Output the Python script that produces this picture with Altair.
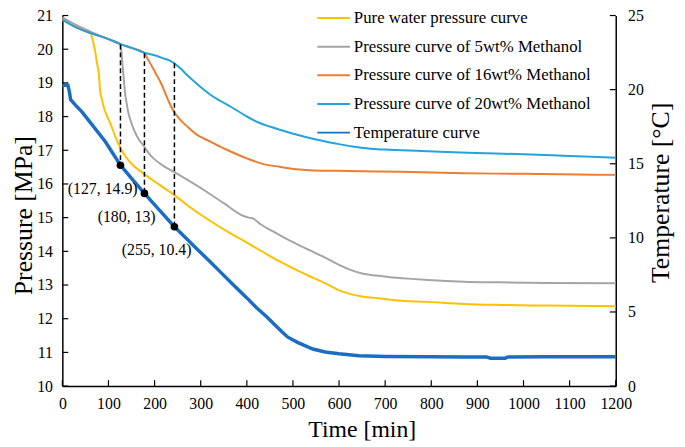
import altair as alt
import pandas as pd

# ---------------- data ----------------
series_names = [
    "Pure water pressure curve",
    "Pressure curve of 5wt% Methanol",
    "Pressure curve of 16wt% Methanol",
    "Pressure curve of 20wt% Methanol",
    "Temperature curve",
]
series_colors = ["#FFC000", "#A5A5A5", "#ED7D31", "#21A3DF", "#1A6DC3"]

water_t = [0, 30, 61, 64, 68, 71, 75, 79, 82, 86, 89, 96, 104, 115, 126, 138, 150, 177, 210, 243, 280, 321, 360,
           400, 435, 471, 507, 543, 575, 600, 625, 650, 690, 721, 793, 871, 950, 1050, 1200]
water_p = [20.9, 20.66, 20.48, 20.36, 20.15, 19.95, 19.6, 19.28, 18.75, 18.5, 18.32, 18.05, 17.8, 17.4, 17.07, 16.8,
           16.6, 16.3, 15.98, 15.67, 15.28, 14.9, 14.57, 14.26, 13.98, 13.7, 13.45, 13.22, 13.02, 12.84, 12.73,
           12.66, 12.6, 12.55, 12.5, 12.44, 12.41, 12.39, 12.37]

gray_t = [0, 30, 61, 100, 126, 128, 130, 133, 136, 140, 143, 150, 157, 166, 177, 188, 200, 220, 243, 275, 307, 350,
          393, 405, 414, 429, 457, 486, 514, 543, 572, 600, 625, 650, 680, 707, 750, 793, 871, 950, 1050, 1200]
gray_p = [20.95, 20.72, 20.52, 20.3, 20.15, 19.95, 19.6, 19.15, 18.7, 18.35, 18.12, 17.8, 17.55, 17.32, 17.12, 16.9,
          16.73, 16.53, 16.35, 16.09, 15.82, 15.43, 15.05, 15.0, 14.97, 14.81, 14.59, 14.37, 14.18, 13.99, 13.8,
          13.6, 13.45, 13.34, 13.28, 13.24, 13.19, 13.15, 13.1, 13.08, 13.06, 13.05]

orange_t = [0, 30, 61, 100, 126, 150, 177, 185, 193, 203, 214, 223, 232, 243, 253, 264, 278, 293, 307, 321, 340,
            364, 400, 436, 471, 507, 536, 593, 686, 780, 871, 1000, 1200]
orange_p = [20.88, 20.65, 20.48, 20.3, 20.15, 20.04, 19.9, 19.72, 19.52, 19.27, 18.99, 18.7, 18.41, 18.12, 17.95,
            17.79, 17.62, 17.45, 17.35, 17.26, 17.12, 16.97, 16.76, 16.59, 16.51, 16.44, 16.41, 16.39, 16.37,
            16.35, 16.32, 16.3, 16.27]

cyan_t = [0, 30, 61, 100, 126, 150, 177, 200, 221, 235, 243, 250, 257, 270, 286, 303, 321, 342, 364, 392, 421, 460,
          507, 550, 593, 630, 664, 700, 780, 878, 1000, 1100, 1200]
cyan_p = [20.88, 20.65, 20.48, 20.3, 20.15, 20.04, 19.9, 19.82, 19.72, 19.65, 19.58, 19.5, 19.42, 19.24, 19.04,
          18.84, 18.65, 18.47, 18.3, 18.07, 17.85, 17.66, 17.47, 17.32, 17.2, 17.11, 17.05, 17.02, 16.98, 16.93,
          16.88, 16.83, 16.78]

temp_t = [0, 12, 15, 18, 30, 43, 60, 93, 126, 150, 178, 210, 243, 270, 293, 320, 343, 370, 400, 420, 443, 460, 475,
          489, 510, 543, 570, 600, 643, 700, 800, 870, 920, 928, 960, 966, 1050, 1200]
temp_v = [20.3, 20.3, 19.9, 19.32, 18.9, 18.48, 17.81, 16.5, 14.9, 14.02, 13.0, 11.89, 10.75, 9.93, 9.22, 8.4, 7.69,
          6.85, 5.95, 5.32, 4.68, 4.15, 3.7, 3.3, 2.95, 2.5, 2.3, 2.18, 2.05, 2.0, 1.98, 1.97, 1.97, 1.88, 1.88,
          1.97, 1.98, 1.98]

mark_t = [126, 178, 243]
mark_T = [14.9, 13.0, 10.75]
mark_top_p = [20.14, 19.88, 19.58]
mark_labels = ["(127, 14.9)", "(180, 13)", "(255, 10.4)"]

x_ticks = [0, 100, 200, 300, 400, 500, 600, 700, 800, 900, 1000, 1100, 1200]
p_ticks = [10, 11, 12, 13, 14, 15, 16, 17, 18, 19, 20, 21]
t_ticks = [0, 5, 10, 15, 20, 25]

# ---------------- chart ----------------
W, H = 560, 375
FONT = "Liberation Serif"

xscale = alt.Scale(domain=[0, 1200], nice=False, zero=False)
pscale = alt.Scale(domain=[10, 21], nice=False, zero=False)
tscale = alt.Scale(domain=[0, 25], nice=False, zero=False)
cscale = alt.Scale(domain=series_names, range=series_colors)

xaxis = alt.Axis(values=x_ticks, format="d", title="Time [min]", titleFontSize=24, titleX=303,
                 labelPadding=10, titlePadding=6, labelOverlap=False, labelFlush=False, labelBound=False)
paxis = alt.Axis(values=p_ticks, format="d", title="Pressure [MPa]", orient="left", titleFontSize=26,
                 titleY=202, labelPadding=10, titlePadding=0, labelOverlap=False, labelFlush=False,
                 labelBound=False)
taxis = alt.Axis(values=t_ticks, format="d", title="Temperature [°C]", orient="right", titleFontSize=26,
                 titleAngle=270, titleBaseline="top", titleY=179, labelPadding=12, titlePadding=4,
                 labelOverlap=False, labelFlush=False, labelBound=False)

legend = alt.Legend(orient="none", legendX=257, legendY=-15, symbolType="stroke", symbolSize=1089,
                    symbolStrokeWidth=2, labelFont=FONT, labelFontSize=17, labelLimit=400, labelOffset=3,
                    rowPadding=3, padding=0, labelColor="black", title=None)


def X():
    return alt.X("t:Q", scale=xscale, axis=xaxis)


def pressure_line(name, ts, ps):
    df = pd.DataFrame({"t": ts, "P": ps, "series": name})
    return alt.Chart(df).mark_line(strokeWidth=2, interpolate="monotone").encode(
        x=X(),
        y=alt.Y("P:Q", scale=pscale, axis=paxis),
        color=alt.Color("series:N", scale=cscale, legend=legend),
    )


pressure = alt.layer(
    pressure_line(series_names[0], water_t, water_p),
    pressure_line(series_names[1], gray_t, gray_p),
    pressure_line(series_names[2], orange_t, orange_p),
    pressure_line(series_names[3], cyan_t, cyan_p),
)

temp_df = pd.DataFrame({"t": temp_t, "T": temp_v, "series": series_names[4]})
temp = alt.Chart(temp_df).mark_line(strokeWidth=3.5).encode(
    x=X(),
    y=alt.Y("T:Q", scale=tscale, axis=taxis),
    color=alt.Color("series:N", scale=cscale, legend=legend),
)

mark_df = pd.DataFrame({"t": mark_t, "T": mark_T, "top": mark_top_p, "label": mark_labels})

dashed = alt.Chart(mark_df).transform_calculate(
    bot="10 + datum.T * 11 / 25"
).mark_rule(color="black", strokeDash=[5, 3], strokeWidth=1.5).encode(
    x=X(),
    y=alt.Y("top:Q", scale=pscale, axis=None),
    y2="bot:Q",
)

points = alt.Chart(mark_df).mark_circle(size=60, color="black", opacity=1).encode(
    x=X(),
    y=alt.Y("T:Q", scale=tscale, axis=None),
)

labels = alt.Chart(mark_df).mark_text(font=FONT, fontSize=16, color="black", align="center", dx=-18,
                                       dy=24).encode(
    x=X(),
    y=alt.Y("T:Q", scale=tscale, axis=None),
    text="label:N",
)

xt = alt.Chart(pd.DataFrame({"t": x_ticks})).mark_rule(color="black", strokeWidth=1.2).encode(
    x=X(), y=alt.value(H), y2=alt.value(H - 6)
)
lt = alt.Chart(pd.DataFrame({"P": p_ticks})).mark_rule(color="black", strokeWidth=1.2).encode(
    y=alt.Y("P:Q", scale=pscale, axis=None), x=alt.value(0), x2=alt.value(6)
)
rt = alt.Chart(pd.DataFrame({"T": t_ticks})).mark_rule(color="black", strokeWidth=1.2).encode(
    y=alt.Y("T:Q", scale=tscale, axis=None), x=alt.value(W - 6), x2=alt.value(W)
)

chart = alt.layer(pressure, temp, dashed, points, labels, xt, lt, rt).resolve_scale(
    y="independent"
).properties(
    width=W,
    height=H,
    padding={"left": 55, "top": 5, "right": 62, "bottom": 58},
    autosize=alt.AutoSizeParams(type="none"),
    background="white",
).configure_view(
    strokeWidth=0
).configure_axis(
    labelFont=FONT,
    titleFont=FONT,
    labelFontSize=16,
    titleFontWeight="normal",
    labelColor="black",
    titleColor="black",
    domainColor="black",
    domainWidth=1.5,
    grid=False,
    ticks=False,
    tickSize=0,
)

chart.save("out.html", embed_options={"renderer": "svg", "actions": False})
